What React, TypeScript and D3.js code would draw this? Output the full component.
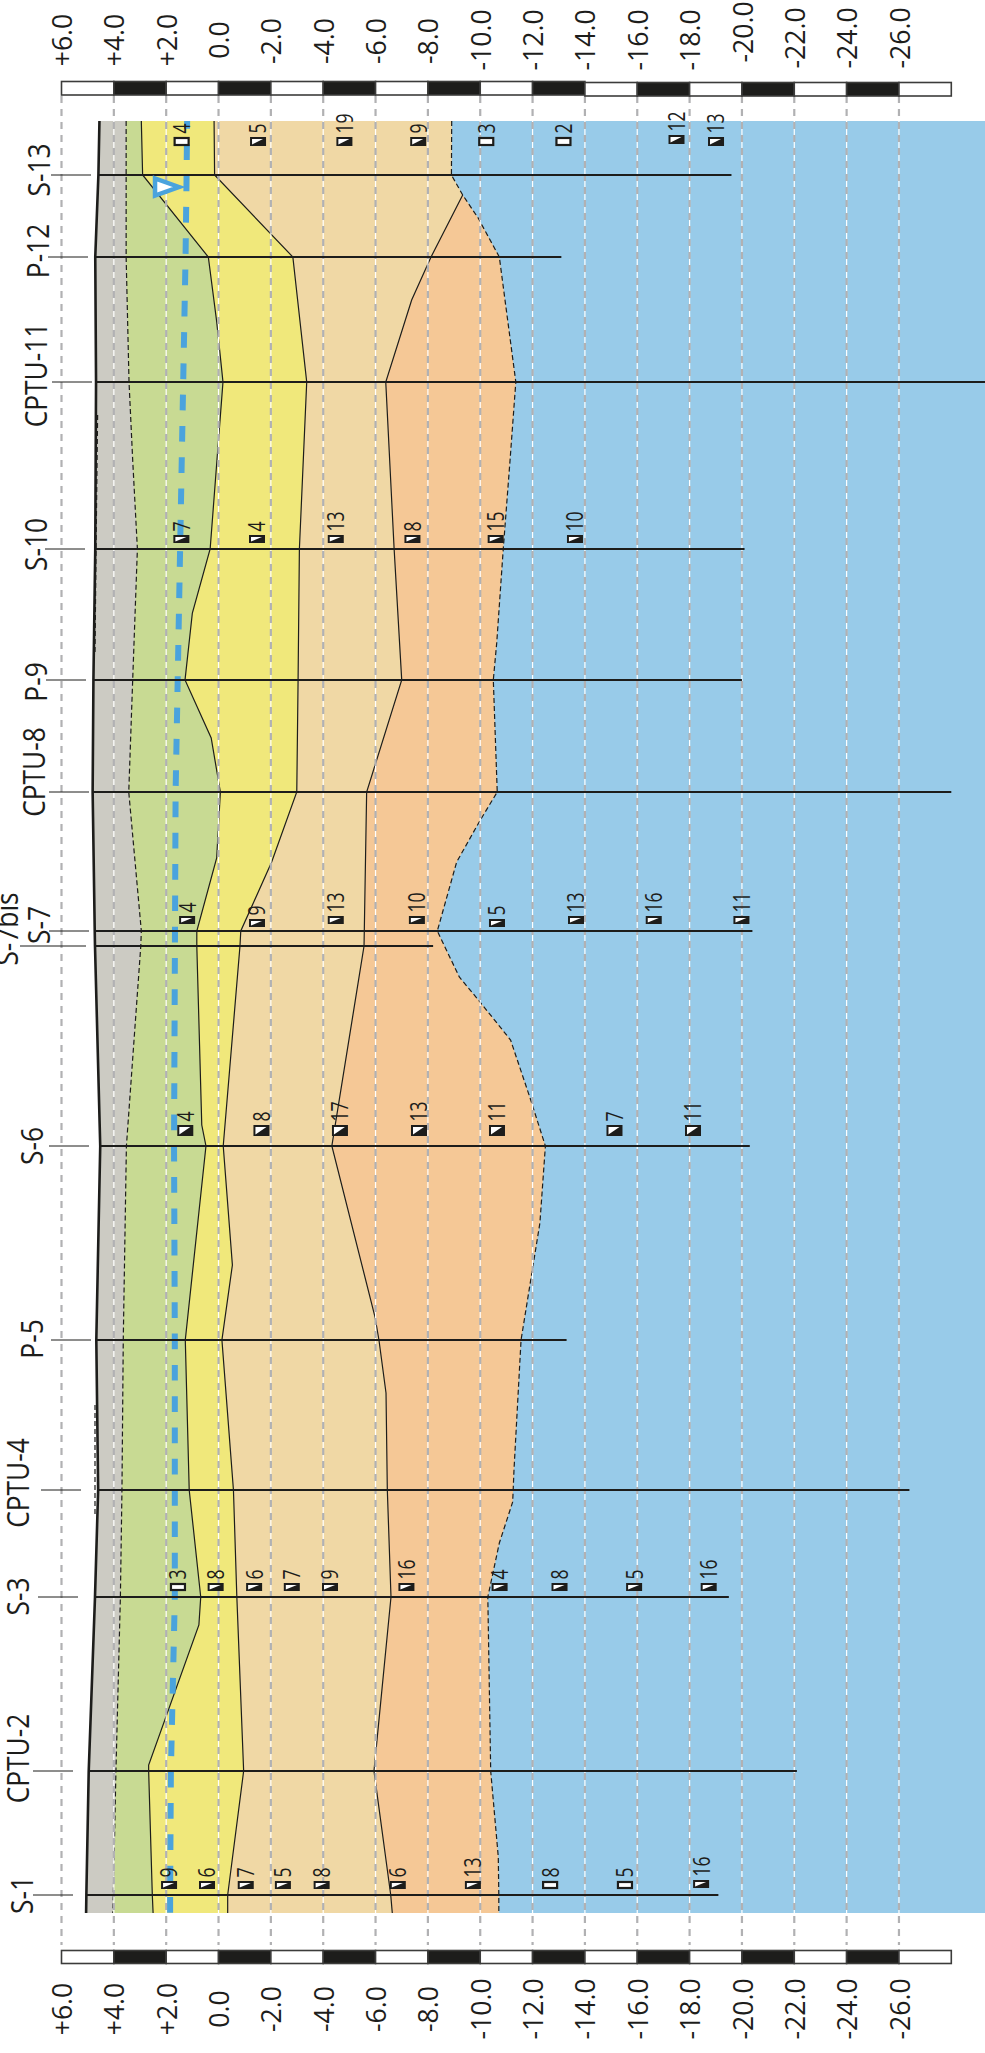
// App.tsx - geological long section, rotated a quarter turn
import React, { useEffect, useRef } from 'react';
import * as d3 from 'd3';

type Pt = [number, number]; // [chainage m, elevation m]

const WIDTH = 985;
const HEIGHT = 2053;
const INK = '#1d1d1b';
const FONT = '"Open Sans", sans-serif';

// elevation axis
const AXIS_TICKS = [6, 4, 2, 0, -2, -4, -6, -8, -10, -12, -14, -16, -18, -20, -22, -24, -26];
const AXIS_LABELS = ['+6.0', '+4.0', '+2.0', '0.0', '-2.0', '-4.0', '-6.0', '-8.0', '-10.0', '-12.0', '-14.0', '-16.0', '-18.0', '-20.0', '-22.0', '-24.0', '-26.0'];
const BAR_EDGES = [6, 4, 2, 0, -2, -4, -6, -8, -10, -12, -14, -16, -18, -20, -22, -24, -26, -28];

// boreholes and soundings, bottom of the page upwards
const STATIONS = ['S-1', 'CPTU-2', 'S-3', 'CPTU-4', 'P-5', 'S-6', 'S-7bis', 'S-7', 'CPTU-8', 'P-9', 'S-10', 'CPTU-11', 'P-12', 'S-13'];
const STATION_CHAINAGE = [0, 62, 149, 202.5, 277.5, 374.5, 474.5, 482, 551.5, 607.5, 673, 756.5, 819, 860];
const STATION_BOTTOM = [-19.1, -22.1, -19.5, -26.4, -13.3, -20.3, -8.2, -20.4, -28, -20, -20.1, -29.4, -13.1, -19.6];

// strata boundaries
const GROUND: Pt[] = [[887, 4.55], [860, 4.59], [819, 4.71], [756.5, 4.68], [673, 4.71], [607.5, 4.78], [551.5, 4.81], [482, 4.73], [474.5, 4.72], [374.5, 4.52], [277.5, 4.67], [202.5, 4.6], [149, 4.72], [62, 4.96], [0, 5.05], [-9, 5.06]];
const OLD_GROUND_NORTH: Pt[] = [[740, 4.62], [673, 4.68], [620, 4.72]];
const OLD_GROUND_SOUTH: Pt[] = [[245, 4.72], [190, 4.72]];
const FILL_BASE: Pt[] = [[887, 3.53], [860, 3.53], [819, 3.53], [756.5, 3.42], [717.5, 3.28], [673, 3.1], [607.5, 3.28], [551.5, 3.43], [482, 2.95], [474.5, 2.97], [374.5, 3.52], [277.5, 3.64], [202.5, 3.69], [149, 3.75], [62, 3.92], [0, 4.02], [-9, 4.04]];
const GREEN_BASE: Pt[] = [[887, 2.95], [860, 2.9], [819, 0.39], [786.7, 0.07], [756.5, -0.17], [673, 0.32], [641, 1], [607.5, 1.28], [578.5, 0.28], [551.5, -0.07], [518.5, 0.07], [482, 0.83], [474.5, 0.83], [385, 0.64], [374.5, 0.48], [277.5, 1.27], [202.5, 1.12], [149, 0.68], [135, 0.75], [65, 2.67], [62, 2.67], [0, 2.53], [-9, 2.5]];
const YELLOW_BASE: Pt[] = [[887, 0.17], [860, 0.15], [819, -2.84], [756.5, -3.37], [673, -3.09], [607.5, -3.04], [551.5, -2.99], [516.5, -2.03], [482, -0.85], [474.5, -0.82], [374.5, -0.18], [315, -0.53], [277.5, -0.13], [202.5, -0.57], [149, -0.7], [62, -0.96], [0, -0.35], [-9, -0.35]];
const TAN_BASE: Pt[] = [[850, -9.33], [819, -8.12], [797.5, -7.38], [756.5, -6.39], [673, -6.71], [607.5, -7], [551.5, -5.66], [482, -5.57], [474.5, -5.56], [374.5, -4.33], [289, -5.98], [277.5, -6.13], [251, -6.4], [202.5, -6.45], [149, -6.59], [62, -5.94], [0, -6.58], [-9, -6.64]];
const CLAY_TOP: Pt[] = [[887, -8.91], [860, -8.9], [850, -9.33], [838.5, -9.92], [819, -10.73], [756.5, -11.36], [717.5, -11.14], [673, -10.88], [626, -10.63], [607.5, -10.5], [551.5, -10.65], [536.5, -9.96], [516.5, -9.1], [482, -8.36], [459, -9.2], [447.5, -9.93], [427.5, -11.16], [397.5, -11.93], [374.5, -12.49], [336, -12.28], [277.5, -11.56], [212.5, -11.29], [196.5, -11.24], [176, -10.73], [149, -10.29], [62, -10.4], [19, -10.69], [0, -10.71], [-9, -10.71]];
const WATER_TABLE: Pt[] = [[887, 1.2], [860, 1.22], [819, 1.26], [756.5, 1.35], [607.5, 1.56], [551.5, 1.64], [374.5, 1.7], [277.5, 1.67], [149, 1.67], [62, 1.82], [0, 1.85], [-9, 1.85]];
const WATER_MARK: Pt = [854, 1.28];

// SPT results per borehole
const SPT_S1_LEVELS = [1.89, 0.44, -1.04, -2.46, -3.94, -6.85, -9.72, -12.67, -15.53, -18.44];
const SPT_S1_COUNTS = ['9', '6', '7', '5', '8', '6', '13', '8', '5', '16'];
const SPT_S1_OPEN = [7, 8];
const SPT_S3_LEVELS = [1.55, 0.11, -1.36, -2.8, -4.26, -7.18, -10.74, -13.03, -15.88, -18.73];
const SPT_S3_COUNTS = ['3', '8', '6', '7', '9', '16', '4', '8', '5', '16'];
const SPT_S3_OPEN = [0];
const SPT_S6_LEVELS = [1.27, -1.64, -4.64, -7.66, -10.64, -15.13, -18.13];
const SPT_S6_COUNTS = ['4', '8', '17', '13', '11', '7', '11'];
const SPT_S7_LEVELS = [1.2, -1.47, -4.48, -7.58, -10.64, -13.66, -16.63, -19.98];
const SPT_S7_COUNTS = ['4', '9', '13', '10', '5', '13', '16', '11'];
const SPT_S10_LEVELS = [1.42, -1.47, -4.48, -7.41, -10.59, -13.62];
const SPT_S10_COUNTS = ['7', '4', '13', '8', '15', '10'];
const SPT_S13_LEVELS = [1.41, -1.51, -4.81, -7.63, -10.23, -13.18, -17.5, -19.01];
const SPT_S13_COUNTS = ['4', '5', '19', '9', '3', '2', '12', '13'];
const SPT_S13_OPEN = [0, 4, 5];

const SPT_ROWS = [
  { station: 'S-1', levels: SPT_S1_LEVELS, counts: SPT_S1_COUNTS, open: SPT_S1_OPEN, gap: 6, h: 8, nudge: { 9: -1 } },
  { station: 'S-3', levels: SPT_S3_LEVELS, counts: SPT_S3_COUNTS, open: SPT_S3_OPEN, gap: 6, h: 8, nudge: {} },
  { station: 'S-6', levels: SPT_S6_LEVELS, counts: SPT_S6_COUNTS, open: [], gap: 10, h: 11, nudge: {} },
  { station: 'S-7', levels: SPT_S7_LEVELS, counts: SPT_S7_COUNTS, open: [], gap: 7, h: 8, nudge: { 1: 3, 4: 3 } },
  { station: 'S-10', levels: SPT_S10_LEVELS, counts: SPT_S10_COUNTS, open: [], gap: 6, h: 8, nudge: {} },
  { station: 'S-13', levels: SPT_S13_LEVELS, counts: SPT_S13_COUNTS, open: SPT_S13_OPEN, gap: 29, h: 9, nudge: { 6: -2 } },
];

// where the station names and their leader ticks sit
const TICK_END = [73, 73, 78, 81, 91, 89, 86, 89, 89, 86, 85, 92, 88, 91];
const NAME_X = [22, 18, 18, 18, 32, 32, 7, 39, 34, 36, 35.5, 36, 38, 39];
const NAME_Y = [1895, 1758.5, 1596.5, 1483, 1339, 1146, 929, 925, 772, 682, 544.5, 375, 251, 170];
const TOP_LABEL_Y = [40, 40, 40, 40, 41, 41, 41, 41, 40, 40, 40, 40, 40, 32, 38, 38, 38];

const App: React.FC = () => {
  const svgRef = useRef<SVGSVGElement>(null);

  useEffect(() => {
    const svg = d3.select(svgRef.current);
    svg.selectAll('*').remove();

    const x = d3.scaleLinear().domain([6, -28]).range([61.5, 951.3]);
    const y = d3.scaleLinear().domain([0, 887]).range([1895, 121]);

    const rightEdge = WIDTH;
    const fillTo = (d: Pt[]) =>
      d3.area<Pt>().y(p => y(p[0])).x0(0).x1(p => x(p[1]))(d);
    const line = d3.line<Pt>().x(p => x(p[1])).y(p => y(p[0]));

    // everything right of the ground line is the section
    svg.append('clipPath').attr('id', 'section')
      .append('path')
      .attr('d', d3.area<Pt>().y(p => y(p[0])).x0(p => x(p[1])).x1(rightEdge)(GROUND));

    const strata = svg.append('g').attr('clip-path', 'url(#section)');
    strata.append('rect')
      .attr('x', 0).attr('y', y(887)).attr('width', WIDTH).attr('height', y(-9) - y(887))
      .attr('fill', '#98cbe9');
    const tanFill: Pt[] = [...CLAY_TOP.filter(p => p[0] > 850), ...TAN_BASE];
    const layers: [Pt[], string][] = [
      [CLAY_TOP, '#f5c896'],
      [tanFill, '#f0d8a5'],
      [YELLOW_BASE, '#f0e87b'],
      [GREEN_BASE, '#c8da93'],
      [FILL_BASE, '#cccbc3'],
    ];
    layers.forEach(([d, color]) => {
      strata.append('path').attr('d', fillTo(d)).attr('fill', color);
    });

    // boundaries
    const boundaries: [Pt[], string | null][] = [
      [FILL_BASE, '5 3'],
      [GREEN_BASE, null],
      [YELLOW_BASE, null],
      [TAN_BASE, null],
      [CLAY_TOP, '5 3'],
      [OLD_GROUND_NORTH, '5 3'],
      [OLD_GROUND_SOUTH, '5 3'],
    ];
    boundaries.forEach(([d, dash]) => {
      svg.append('path')
        .attr('d', line(d))
        .attr('fill', 'none')
        .attr('stroke', INK)
        .attr('stroke-width', 1.2)
        .attr('stroke-dasharray', dash);
    });

    // elevation grid
    const grid = svg.append('g');
    const gridTop = 96;
    const gridBottom = 1945;
    grid.selectAll('line.white').data(AXIS_TICKS.slice(1)).enter().append('line')
      .attr('class', 'white')
      .attr('x1', d => x(d)).attr('x2', d => x(d))
      .attr('y1', y(887)).attr('y2', y(-9))
      .attr('stroke', '#fff').attr('stroke-width', 1.2);
    grid.selectAll('line.grey').data(AXIS_TICKS).enter().append('line')
      .attr('class', 'grey')
      .attr('x1', d => x(d)).attr('x2', d => x(d))
      .attr('y1', gridTop).attr('y2', gridBottom)
      .attr('stroke', '#b1b1b3').attr('stroke-width', 2.2)
      .attr('stroke-dasharray', '7 6');

    svg.append('path')
      .attr('d', line(GROUND))
      .attr('fill', 'none')
      .attr('stroke', INK)
      .attr('stroke-width', 2.6);

    // water table
    svg.append('path')
      .attr('d', line(WATER_TABLE))
      .attr('fill', 'none')
      .attr('stroke', '#4aa3dd')
      .attr('stroke-width', 6)
      .attr('stroke-dasharray', '15.7 15.6')
      .attr('stroke-dashoffset', 8);

    // boreholes
    const groundAt = (c: number) => {
      const asc = [...GROUND].reverse();
      return d3.scaleLinear().domain(asc.map(p => p[0])).range(asc.map(p => p[1]))(c);
    };
    STATIONS.forEach((name, i) => {
      const py = y(STATION_CHAINAGE[i]);
      svg.append('line')
        .attr('x1', x(groundAt(STATION_CHAINAGE[i]))).attr('x2', x(STATION_BOTTOM[i]))
        .attr('y1', py).attr('y2', py)
        .attr('stroke', INK).attr('stroke-width', 2);
      svg.append('line')
        .attr('x1', name === 'S-7bis' ? 20 : TICK_END[i] - 40).attr('x2', TICK_END[i])
        .attr('y1', py).attr('y2', py)
        .attr('stroke', INK).attr('stroke-width', 1);
      svg.append('text')
        .attr('transform', `translate(${NAME_X[i]},${NAME_Y[i]}) rotate(-90) scale(0.855,1)`)
        .attr('text-anchor', 'middle')
        .attr('dy', '0.36em')
        .attr('font-family', FONT)
        .attr('font-size', 30.8)
        .attr('fill', INK)
        .text(name);
    });

    // water level triangle
    const tipX = x(WATER_MARK[1]);
    const tipY = y(WATER_MARK[0]);
    svg.append('path')
      .attr('d', `M${tipX - 6},${tipY}L${tipX - 30},${tipY - 8.5}L${tipX - 30},${tipY + 8.5}Z`)
      .attr('fill', '#fff')
      .attr('stroke', '#4aa3dd')
      .attr('stroke-width', 4.5);

    // SPT markers and counts
    const markW = 16;
    SPT_ROWS.forEach(row => {
      const idx = STATIONS.indexOf(row.station);
      row.levels.forEach((lev, k) => {
        const base = y(STATION_CHAINAGE[idx]) - row.gap + ((row.nudge as Record<number, number>)[k] ?? 0);
        const top = base - row.h;
        const cx = x(lev);
        const l = cx - markW / 2;
        if (row.open.includes(k)) {
          svg.append('rect')
            .attr('x', l + 1).attr('y', top + 1)
            .attr('width', markW - 2).attr('height', row.h - 2)
            .attr('fill', '#fff').attr('stroke', INK).attr('stroke-width', 2.2);
        } else {
          svg.append('rect')
            .attr('x', l).attr('y', top).attr('width', markW).attr('height', row.h)
            .attr('fill', INK);
          svg.append('path')
            .attr('d', `M${l + 2},${top + 2}L${l + markW - 3},${top + 2}L${l + 2},${base - 1.5}Z`)
            .attr('fill', '#fff');
        }
        svg.append('text')
          .attr('transform', `translate(${cx},${top - 3.5}) rotate(-90) scale(0.75,1)`)
          .attr('dy', '0.36em')
          .attr('font-family', FONT)
          .attr('font-size', 23.4)
          .attr('fill', INK)
          .text(row.counts[k]);
      });
    });

    // scale bars
    const drawBar = (top: number, h: number, shiftAfter: number) => {
      const bar = svg.append('g');
      d3.pairs(BAR_EDGES).forEach(([a, b], i) => {
        bar.append('rect')
          .attr('x', x(a)).attr('width', x(b) - x(a))
          .attr('y', top + (a <= -14 ? shiftAfter : 0)).attr('height', h)
          .attr('fill', i % 2 === 0 ? '#fff' : INK)
          .attr('stroke', '#3c3c3b')
          .attr('stroke-width', 1.6);
      });
    };
    drawBar(81.5, 13.5, 1);
    drawBar(1950.5, 13, 0);

    // elevation labels, top and bottom
    const labelAt = (lx: number, ly: number, txt: string) => {
      svg.append('text')
        .attr('transform', `translate(${lx},${ly}) rotate(-90)`)
        .attr('text-anchor', 'middle')
        .attr('dy', '0.36em')
        .attr('font-family', FONT)
        .attr('font-size', 26.6)
        .attr('fill', INK)
        .text(txt);
    };
    AXIS_TICKS.forEach((d, i) => {
      labelAt(x(d) + 1, TOP_LABEL_Y[i], AXIS_LABELS[i]);
      labelAt(x(d) + 1, 2009, AXIS_LABELS[i]);
    });
  }, []);

  return (
    <svg
      ref={svgRef}
      width={WIDTH}
      height={HEIGHT}
      style={{ position: 'absolute', left: 0, top: 0, background: '#fff' }}
    />
  );
};

export default App;
